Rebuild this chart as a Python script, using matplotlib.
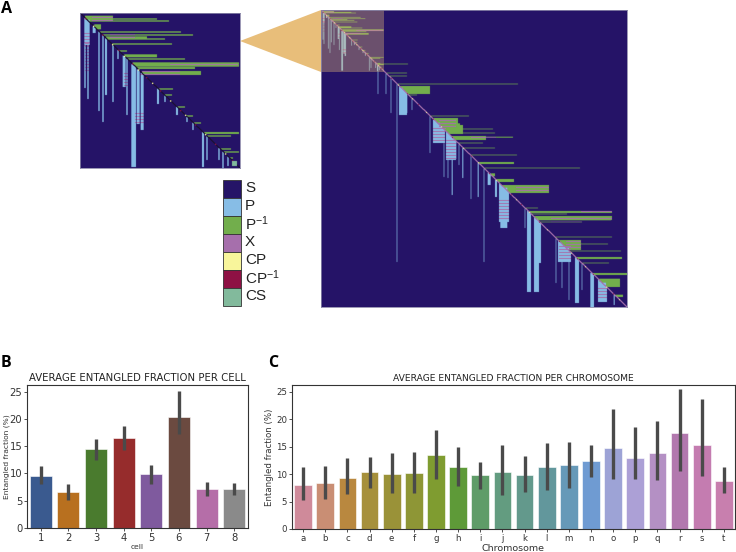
#!/usr/bin/env python

from matplotlib.patches import Polygon, Rectangle
from matplotlib.pyplot  import figure, rcParams
from numpy              import arange, array, zeros

W,H = 736,552

state_names  = ['S', 'P', 'P$^{-1}$', 'X', 'CP', 'CP$^{-1}$', 'CS']
state_colors = ['#251467', '#87BDE6', '#72AE4C', '#A66FAC', '#F8F59B', '#8E1144', '#82BA9C', '#1B1030']

# streaks of the zoomed matrix, in reference pixels: position, far end, width
inset_h_row = [5, 6, 8, 14, 19, 22, 25, 26, 31, 38, 43, 46, 51, 53, 55, 60, 76, 82, 94, 103, 110, 120, 123, 136, 139, 145]
inset_h_end = [33, 77, 89, 21, 101, 113, 67, 85, 92, 47, 77, 105, 159, 159, 115, 121, 93, 92, 105, 113, 121, 159, 151, 151, 159, 153]
inset_h_w   = [5, 1, 1, 5, 1, 1, 3, 1, 1, 1, 3, 1, 3, 1, 2, 4, 1, 1, 1, 1, 1, 2, 1, 1, 1, 1]
inset_v_col = [7, 5, 8, 14, 19, 23, 26, 33, 38, 44, 47, 53, 55, 58, 62, 78, 85, 97, 107, 113, 123, 127, 139, 143, 148]
inset_v_end = [32, 75, 86, 20, 98, 109, 82, 89, 46, 74, 102, 154, 154, 111, 117, 91, 89, 102, 109, 117, 154, 147, 147, 155, 153]
inset_v_w   = [5, 1, 1, 3, 1, 1, 2, 1, 1, 3, 1, 3, 2, 3, 3, 2, 1, 2, 1, 1, 2, 1, 1, 1, 1]
inset_x     = [(4, 9, 12, 33), (21, 27, 30, 55), (20, 35, 4, 10), (58, 62, 60, 100), (60, 75, 44, 48), (100, 110, 55, 66), (51, 53, 90, 158), (30, 60, 5, 9)]
inset_dots  = [5, 13, 22, 32, 38, 44, 52, 58, 66, 72, 80, 90, 100, 105, 115, 125, 135, 145, 152]

main_h_row = [54, 63, 66, 74, 78, 82, 85, 106, 110, 115, 119, 123, 127, 129, 133, 138, 145, 153, 158, 165, 170, 176, 180, 182,
              198, 202, 204, 209, 212, 227, 232, 234, 238, 241, 248, 253, 264, 270, 275, 285]
main_h_end = [87, 86, 86, 197, 109, 102, 96, 148, 137, 139, 172, 174, 192, 162, 162, 174, 196, 193, 259, 174, 193, 226, 226, 221,
              217, 291, 246, 290, 261, 291, 258, 287, 258, 300, 301, 288, 306, 299, 297, 302]
main_h_w   = [.5, .5, .5, .5, 3, 1, .5, .5, 2, 3, .5, .5, 1, .5, .5, .5, .5, 1, .5, 3, 2, 2, 2, .5,
              .5, 1, .5, 3, .5, .5, 2, .5, 1, .5, 1, .5, 2, 3, 2, .5]
main_v_col = [57, 65, 70, 76, 80, 86, 91, 109, 116, 123, 127, 131, 135, 138, 142, 150, 157, 163, 168, 175, 183, 187,
              204, 208, 215, 219, 235, 243, 241, 248, 256, 261, 271, 281, 293]
main_v_end = [84, 84, 103, 252, 105, 103, 100, 143, 133, 167, 168, 185, 149, 155, 168, 189, 187, 252, 175, 187, 218, 208,
              218, 282, 282, 253, 273, 252, 278, 290, 293, 280, 297, 292, 295]
main_v_w   = [.5, .5, .5, .5, 4, 1, .5, .5, 6, .5, .5, 1, .5, .5, 1, .5, 1, .5, 3, 2, 7, 1,
              .5, 3, 4, 2, .5, 10, .5, .5, 1.5, .5, 3, 8, 1]
# filled wedges next to the diagonal: first row/col, last row/col, far end
main_h_block = [(76, 84, 109), (108, 118, 137), (115, 124, 142), (126, 130, 165), (152, 154, 193), (169, 172, 193), (175, 183, 228),
                (201, 203, 291), (206, 210, 291), (230, 240, 260), (247, 249, 301), (263, 265, 306), (269, 277, 299), (285, 287, 302)]
main_v_block = [(78, 86, 105), (112, 124, 133), (125, 135, 150), (178, 188, 212), (206, 210, 282), (213, 218, 282),
                (237, 250, 252), (254, 258, 293), (270, 273, 297), (277, 286, 292)]
main_x     = [(110, 118, 118, 135), (174, 184, 195, 228), (205, 213, 230, 292), (124, 130, 150, 175), (190, 210, 178, 190),
              (236, 250, 238, 250), (278, 290, 276, 286), (118, 134, 112, 125), (228, 240, 245, 260), (201, 203, 260, 291), (130, 150, 125, 135)]
main_dots  = [70, 77, 86, 91, 97, 105, 112, 120, 131, 142, 150, 157, 168, 175, 190, 195, 200, 208, 218, 226, 238, 250, 256, 264, 272, 285, 292, 298]

cells  = ['1', '2', '3', '4', '5', '6', '7', '8']
b_mean = [9.6, 6.6, 14.4, 16.5, 9.9, 20.4, 7.1, 7.1]
b_low  = [8.0, 5.2, 12.4, 14.3, 8.0, 17.2, 5.8, 6.1]
b_high = [11.3, 8.1, 16.3, 18.7, 11.6, 25.1, 8.5, 8.3]
b_cols = ['#3A5A8F', '#B8701F', '#4A7B2E', '#962C2C', '#7F5A9E', '#6B4A40', '#B56EA8', '#8A8A8A']

chroms = list('abcdefghijklmnopqrst')
c_mean = [8.0, 8.4, 9.2, 10.3, 10.0, 10.1, 13.5, 11.3, 9.8, 10.4, 9.9, 11.2, 11.7, 12.4, 14.8, 13.0, 13.9, 17.4, 15.2, 8.8]
c_low  = [5.3, 5.4, 6.3, 7.5, 6.6, 6.5, 9.1, 7.8, 7.3, 6.1, 6.8, 7.1, 7.4, 9.5, 9.1, 9.1, 8.9, 10.5, 9.6, 6.6]
c_high = [11.2, 11.5, 12.9, 13.1, 13.8, 14.0, 18.1, 15.0, 12.2, 15.3, 13.3, 15.7, 15.8, 15.2, 21.8, 18.6, 19.6, 25.4, 23.6, 11.2]
c_cols = ['#CF8A9A', '#C98E74', '#B9883F', '#A6903B', '#9A9238', '#8E9636', '#7F9C30', '#5E9A38', '#5F9C68', '#639C80',
          '#63998C', '#62979C', '#6699B8', '#6F9BD2', '#9DA3D6', '#ACA0D6', '#B490C4', '#B278AE', '#C47CB0', '#C87FAE']

def px_axes(fig,x0,y0,x1,y1):
    return fig.add_axes([x0/W, 1-y1/H, (x1-x0)/W, (y1-y0)/H])

def paint(m,res,rows,cols,scale,hr,he,hw,vc,ve,vw,xs,dots,minw,diag,dot=2,hb=(),vb=()):
    # rows,cols are the reference size of the matrix; scale shrinks a block into a bigger one
    asp = rows/cols
    R   = lambda v: int(round(v*scale*res))
    for r0,r1,e in hb:
        for r in range(r0,r1):
            m[R(r):R(r+1), R(r/asp):R(e)] = 2
    for c0,c1,e in vb:
        for c in range(c0,c1):
            m[R(c*asp):R(e), R(c):R(c+1)] = 1
    for r,e,w in zip(hr,he,hw):
        w = max(w,minw)
        a = R(r-w/2)
        m[a:a+max(1,R(w)), R(r/asp):R(e)] = 2
    for c,e,w in zip(vc,ve,vw):
        w = max(w,minw)
        a = R(c-w/2)
        m[R(c*asp):R(e), a:a+max(1,R(w))] = 1
    for r0,r1,c0,c1 in xs:
        part = m[R(r0):R(r1), R(c0):R(c1)]
        for i in range(0,part.shape[0],3*res):
            band = part[i:i+res]
            band[band>0] = 3
    n = int(cols*scale*res)
    for i in range(n):
        j = int(i*asp)
        m[j:j+res, i:i+res] = diag
    for k,d in enumerate(dots):
        a,b = R(d*asp),R(d)
        size = int(dot*res)
        m[a:a+size, b:b+size] = 5 if k%2==0 else 4

def show_matrix(ax,m,rows,cols):
    rgb = array([[int(s[i:i+2],16)/255 for i in (1,3,5)] for s in state_colors])
    ax.imshow(rgb[m], aspect='auto', interpolation='hanning', extent=(0,cols,rows,0))
    ax.set_xticks([])
    ax.set_yticks([])
    for s in ax.spines.values():
        s.set_color('#8a86a8')
        s.set_linewidth(.6)

def barplot(ax,labels,means,lows,highs,cols,lw,top):
    x = arange(len(labels))
    ax.bar(x, means, width=.8, color=cols, edgecolor='#ffffff', linewidth=.4)
    ax.vlines(x, lows, highs, color='#4a4a4a', linewidth=lw)
    ax.set_xticks(x, labels)
    ax.set_xlim(-.5, len(labels)-.5)
    ax.set_ylim(0, top)
    ax.set_yticks([0, 5, 10, 15, 20, 25])
    for s in ax.spines.values():
        s.set_color('#333333')

if __name__=='__main__':
    rcParams['mathtext.default'] = 'regular'
    fig = figure(figsize=(W/100,H/100), dpi=100)

    res   = 3
    inset = zeros((155*res,160*res), dtype=int)
    paint(inset,res,155,160,1,inset_h_row,inset_h_end,inset_h_w,inset_v_col,inset_v_end,inset_v_w,inset_x,inset_dots,1.4,7,1.4)
    inset[148*res:153*res, 152*res:157*res] = 6
    show_matrix(px_axes(fig,80,13,240,168),inset,155,160)

    main = zeros((297*res,306*res), dtype=int)
    paint(main,res,297,306,1,main_h_row,main_h_end,main_h_w,main_v_col,main_v_end,main_v_w,main_x,main_dots,.7,3,1,main_h_block,main_v_block)
    paint(main,res,155,160,63/160,inset_h_row,inset_h_end,inset_h_w,inset_v_col,inset_v_end,inset_v_w,inset_x,inset_dots,2,3,1)
    ax_main = px_axes(fig,321,10,627,307)
    show_matrix(ax_main,main,297,306)
    ax_main.add_patch(Rectangle((0,0),63,62,facecolor='#E8BE7A',alpha=.36,edgecolor='none'))

    # page layer in reference pixels: zoom wedge, colour key, panel letters
    page = fig.add_axes([0,0,1,1], zorder=-1)
    page.set_xlim(0,W)
    page.set_ylim(H,0)
    page.axis('off')
    page.add_patch(Polygon([(240,41),(321,10),(321,72)],closed=True,facecolor='#E8BE7A',edgecolor='none'))
    for i,(name,col) in enumerate(zip(state_names,state_colors)):
        page.add_patch(Rectangle((222.5,180+18*i),18,18,facecolor=col,edgecolor='#333333',linewidth=.6))
        page.text(245,188+18*i,name,fontsize=11,family='Liberation Sans',va='center',color='#222222')
    for letter,x,y in [('A',1,9),('B',1,363),('C',268,363)]:
        page.text(x,y,letter,fontsize=11.5,fontweight='bold',family='Open Sans',va='center')

    ax_b = px_axes(fig,27,385,248,528)
    barplot(ax_b,cells,b_mean,b_low,b_high,b_cols,2.4,26.2)
    ax_b.set_title('AVERAGE ENTANGLED FRACTION PER CELL',fontsize=7.3,pad=3,color='#222222')
    ax_b.set_xlabel('cell',fontsize=5.4,labelpad=1,color='#333333')
    ax_b.set_ylabel('Entangled fraction (%)',fontsize=5.4,color='#333333')
    ax_b.yaxis.set_label_coords(-.078,.5)
    ax_b.tick_params(labelsize=7.2,length=2,width=.6,pad=1.5,colors='#333333')

    ax_c = px_axes(fig,292,385,735,529)
    barplot(ax_c,chroms,c_mean,c_low,c_high,c_cols,2.4,26.2)
    ax_c.set_title('AVERAGE ENTANGLED FRACTION PER CHROMOSOME',fontsize=6.6,pad=3,color='#222222')
    ax_c.set_xlabel('Chromosome',fontsize=6.8,labelpad=1,color='#333333')
    ax_c.set_ylabel('Entangled fraction (%)',fontsize=6.2,labelpad=1.5,color='#333333')
    ax_c.tick_params(labelsize=6.2,length=2,width=.6,pad=1.5,colors='#333333')

    fig.savefig('out.png',dpi=100)
